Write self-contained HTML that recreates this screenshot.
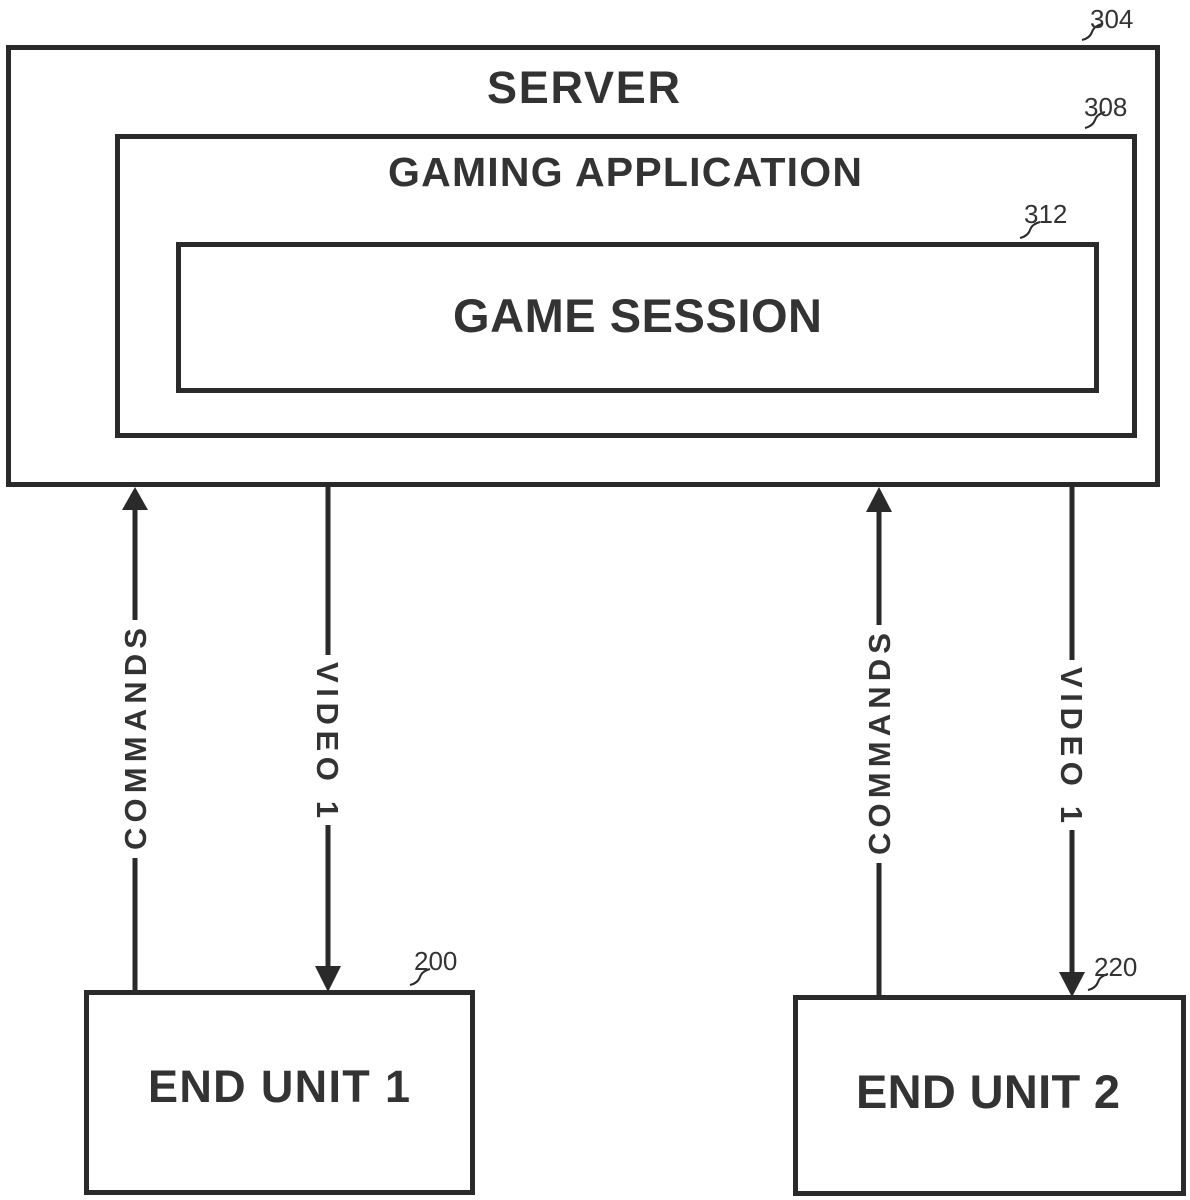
<!DOCTYPE html>
<html><head><style>body{margin:0;background:#fff}svg{display:block}text{font-family:"Liberation Sans",Arial,sans-serif;font-weight:bold;fill:#333}</style></head><body>
<svg width="1190" height="1200" viewBox="0 0 1190 1200" xmlns="http://www.w3.org/2000/svg">
<g fill="none" stroke="#2a2a2a" stroke-width="5">
<rect x="8.5" y="47.5" width="1149" height="437"/>
<rect x="117.5" y="136.5" width="1017" height="299"/>
<rect x="178.5" y="244.5" width="918" height="146"/>
<rect x="86.5" y="992.5" width="386" height="200"/>
<rect x="795.5" y="997.5" width="388" height="196"/>
<line x1="135" y1="992" x2="135" y2="505"/>
<line x1="328" y1="487" x2="328" y2="970"/>
<line x1="879" y1="997" x2="879" y2="510"/>
<line x1="1072" y1="487" x2="1072" y2="975"/>
<g stroke-width="2">
<path d="M1082 40 q8 -2 10 -8 q2 -6 10 -8"/>
<path d="M1085 128 q8 -2 10 -8 q2 -6 10 -8"/>
<path d="M1020 238 q8 -2 10 -8 q2 -6 10 -8"/>
<path d="M410 985 q8 -2 10 -8 q2 -6 10 -8"/>
<path d="M1088 990 q8 -2 10 -8 q2 -6 10 -8"/>
</g>
</g>
<g fill="#2a2a2a">
<polygon points="135,487 122,510 148,510"/>
<polygon points="879,487 866,512 892,512"/>
<polygon points="328,992 315,966 341,966"/>
<polygon points="1072,997 1059,972 1085,972"/>
</g>
<g font-size="26">
<text x="1090" y="28" style="font-weight:normal">304</text>
<text x="1084" y="116" style="font-weight:normal">308</text>
<text x="1024" y="223" style="font-weight:normal">312</text>
<text x="414" y="970" style="font-weight:normal">200</text>
<text x="1094" y="976" style="font-weight:normal">220</text>
</g>
<text x="487" y="103" font-size="45" textLength="193" lengthAdjust="spacing">SERVER</text>
<text x="388" y="186" font-size="41" textLength="474" lengthAdjust="spacing">GAMING APPLICATION</text>
<text x="453" y="332" font-size="47" textLength="369" lengthAdjust="spacing">GAME SESSION</text>
<text x="148" y="1102" font-size="45" textLength="262" lengthAdjust="spacing">END UNIT 1</text>
<text x="856" y="1108" font-size="47" textLength="264" lengthAdjust="spacing">END UNIT 2</text>
<g font-size="31">
<rect x="116" y="620" width="38" height="238" fill="#fff"/>
<text transform="translate(146,850) rotate(-90)" textLength="222" lengthAdjust="spacing">COMMANDS</text>
<rect x="309" y="655" width="38" height="170" fill="#fff"/>
<text transform="translate(317,662) rotate(90)" textLength="156" lengthAdjust="spacing">VIDEO 1</text>
<rect x="860" y="625" width="38" height="238" fill="#fff"/>
<text transform="translate(890,855) rotate(-90)" textLength="222" lengthAdjust="spacing">COMMANDS</text>
<rect x="1053" y="660" width="38" height="170" fill="#fff"/>
<text transform="translate(1061,667) rotate(90)" textLength="156" lengthAdjust="spacing">VIDEO 1</text>
</g>
</svg>
</body></html>
